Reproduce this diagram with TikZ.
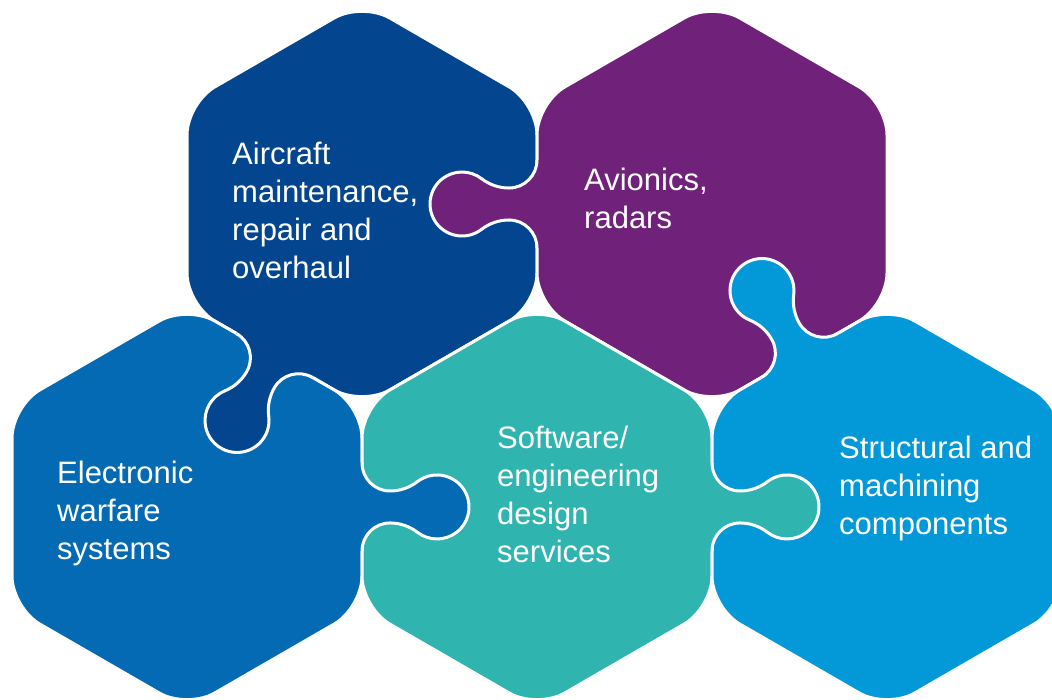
\documentclass[tikz,border=0pt]{standalone}
\usepackage{fontspec}
\setmainfont{Liberation Sans}
\definecolor{mrocol}{RGB}{3,70,143}
\definecolor{avicol}{RGB}{112,33,122}
\definecolor{ewcol}{RGB}{3,106,179}
\definecolor{softcol}{RGB}{47,180,175}
\definecolor{structcol}{RGB}{3,152,216}
% pointy-top hexagon around the origin, and the outline of one knob
\newcommand{\hexpath}{(0,202) -- (175,101) -- (175,-101) -- (0,-202) -- (-175,-101) -- (-175,101) -- cycle}
\newcommand{\knobcurve}{(0,44) arc[start angle=180,end angle=270,radius=28]
  arc[start angle=270,end angle=307.62,radius=45] arc[start angle=127.62,end angle=-127.62,radius=32]
  arc[start angle=52.38,end angle=90,radius=45] arc[start angle=90,end angle=180,radius=28]}
\tikzset{
  puzzle piece/.style={
    fill=#1,
    draw=white,
    line width=3pt,
    rounded corners=32pt
  },
  knob edge/.style={
    draw=white,
    line width=3pt
  },
  piece label/.style={
    anchor=north west,
    inner sep=0pt,
    align=left,
    text=white,
    font=\fontsize{31}{38}\selectfont
  }
}

\begin{document}
\begin{tikzpicture}[x=1pt,y=1pt]
  \useasboundingbox (0,0) rectangle (1052,700);
  \clip (0,0) rectangle (1052,700);
  % centres of the pieces
  \coordinate (mro) at (362,496);
  \coordinate (avi) at (712,496);
  \coordinate (ew) at (187,193);
  \coordinate (soft) at (537,193);
  \coordinate (struct) at (887,193);
  % middle of the edges that carry a knob
  \coordinate (knobA) at (537,496);
  \coordinate (knobB) at (274.5,344.5);
  \coordinate (knobC) at (362,193);
  \coordinate (knobD) at (712,193);
  \coordinate (knobE) at (799.5,344.5);
  \filldraw[puzzle piece=mrocol,shift={(mro)}] \hexpath;
  \filldraw[puzzle piece=avicol,shift={(avi)}] \hexpath;
  \filldraw[puzzle piece=ewcol,shift={(ew)}] \hexpath;
  \filldraw[puzzle piece=softcol,shift={(soft)}] \hexpath;
  \filldraw[puzzle piece=structcol,shift={(struct)}] \hexpath;
  \foreach \k/\ang/\col in {knobA/180/avicol,knobB/-120/mrocol,knobC/0/ewcol,knobD/0/softcol,knobE/120/structcol}
  {
    \begin{scope}[shift={(\k)},rotate=\ang]
      \fill[\col] (-3,44) -- \knobcurve -- (-3,-44) -- cycle;
      \draw[knob edge] \knobcurve;
    \end{scope}
  }
  \node[piece label] (aircraft) at (232,558.5) {Aircraft\\maintenance,\\repair and\\overhaul};
  \node[piece label] (avionics) at (584,532.5) {Avionics,\\radars};
  \node[piece label] (warfare) at (57,239.5) {Electronic\\warfare\\systems};
  \node[piece label] (software) at (497,274.5) {Software/\\engineering\\design\\services};
  \node[piece label] (structural) at (839,264.5) {Structural and\\machining\\components};
\end{tikzpicture}
\end{document}
